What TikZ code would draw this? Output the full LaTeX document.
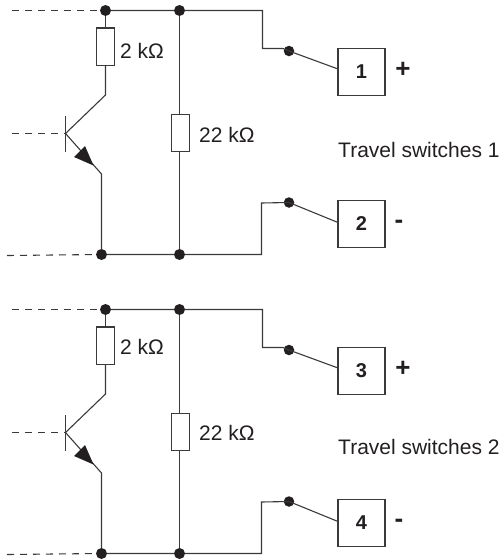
\documentclass[tikz,border=0pt]{standalone}
\usepackage{fontspec}
\setmainfont{Liberation Sans}
\definecolor{ink}{HTML}{231F20}
\definecolor{wire}{HTML}{3A3A3A}
\tikzset{
  wireline/.style={draw=wire,line width=1.1pt,line join=miter},
  dashline/.style={draw=wire,line width=1.1pt,dash pattern=on 7pt off 6pt},
  resistor/.style={draw=wire,line width=1.1pt,fill=white,minimum width=18pt,minimum height=37.5pt,inner sep=0pt,outer sep=0pt},
  termbox/.style={draw=wire,line width=1.1pt,fill=white,minimum width=47pt,minimum height=47pt,inner sep=0pt,outer sep=0pt,font=\fontsize{20}{24}\selectfont\bfseries,text=ink},
  junction/.style={circle,fill=ink,minimum size=11pt,inner sep=0pt,outer sep=0pt},
  tjunction/.style={circle,fill=ink,minimum size=10.5pt,inner sep=0pt,outer sep=0pt},
  lbl/.style={anchor=west,inner sep=0pt,font=\fontsize{21}{25}\selectfont,text=ink},
  sign/.style={inner sep=0pt,font=\fontsize{26}{30}\selectfont\bfseries,text=ink},
}
\begin{document}
\begin{tikzpicture}[x=1pt,y=-1pt]
\useasboundingbox (0,0) rectangle (503,560);
\foreach \p/\dy/\dl/\na/\nb/\sw in {A/0/0/1/2/1,B/299/-3/3/4/2}{
  \begin{scope}[yshift=-\dy pt]
    % junctions
    \node[junction] (\p t1) at (105.5,10.5) {};
    \node[junction] (\p t2) at (179.5,10.5) {};
    \node[junction] (\p b1) at (101.5,254.5) {};
    \node[junction] (\p b2) at (179.5,254.5) {};
    \node[tjunction] (\p s1) at (289,51) {};
    \node[tjunction] (\p s2) at (289,202.5) {};
    % free ends
    \coordinate (\p dt) at (12,10.5);
    \coordinate (\p db) at (7,255.5);
    \coordinate (\p dm) at (12,133.5);
    \coordinate (\p base) at (65.5,133.5);
    \coordinate (\p c) at (105.5,95);
    \coordinate (\p e) at (101.5,174);
    \coordinate (\p barT) at (65.5,116);
    \coordinate (\p barB) at (65.5,152);
    % parts
    \node[resistor] (\p r1) at (105.5,46.7) {};
    \node[resistor] (\p r2) at (180.5,133) {};
    \node[termbox] (\p box1) at (361.5,72) {\na};
    \node[termbox] (\p box2) at (361.5,224) {\nb};
    % wires
    \draw[wireline] (\p t1) -- (\p t2) -- (262.5,10.5) -- (262.5,48.5) -- (283,48.5) -- (\p s1.center);
    \draw[wireline] (\p s1.center) -- (\p box1.west |- 0,69);
    \draw[wireline] (\p b1) -- (\p b2) -- (261.5,254.5) -- (261.5,203) -- (\p s2.center);
    \draw[wireline] (\p s2.center) -- (\p box2.west |- 0,222.5);
    \draw[wireline] (\p t1) -- (\p r1.north);
    \draw[wireline] (\p r1.south) -- (\p c) -- (\p base);
    \draw[wireline] (\p t2) -- (\p t2 |- \p r2.north);
    \draw[wireline] (\p t2 |- \p r2.south) -- (\p b2);
    \draw[wireline] (\p barT) -- (\p barB);
    \draw[wireline] (\p base) -- (\p e) -- (\p b1);
    \fill[ink] (93.5,165.5) -- (74,157) -- (85,146) -- cycle;
    \draw[dashline] (\p dt) -- (\p t1);
    \draw[dashline] (\p dm) -- (\p base);
    \draw[dashline] (\p db) -- (\p b1);
    % text
    \node[lbl] (\p l1) at (120,51+\dl) {2 kΩ};
    \node[lbl] (\p l2) at (199,135+\dl/3) {22 kΩ};
    \node[lbl] (\p ts) at (338,149.5+\dl/2) {Travel switches \sw};
    \node[sign] (\p sa) at (403,70) {+};
    \node[sign] (\p sb) at (399,224) {-};
  \end{scope}
}
\end{tikzpicture}
\end{document}
